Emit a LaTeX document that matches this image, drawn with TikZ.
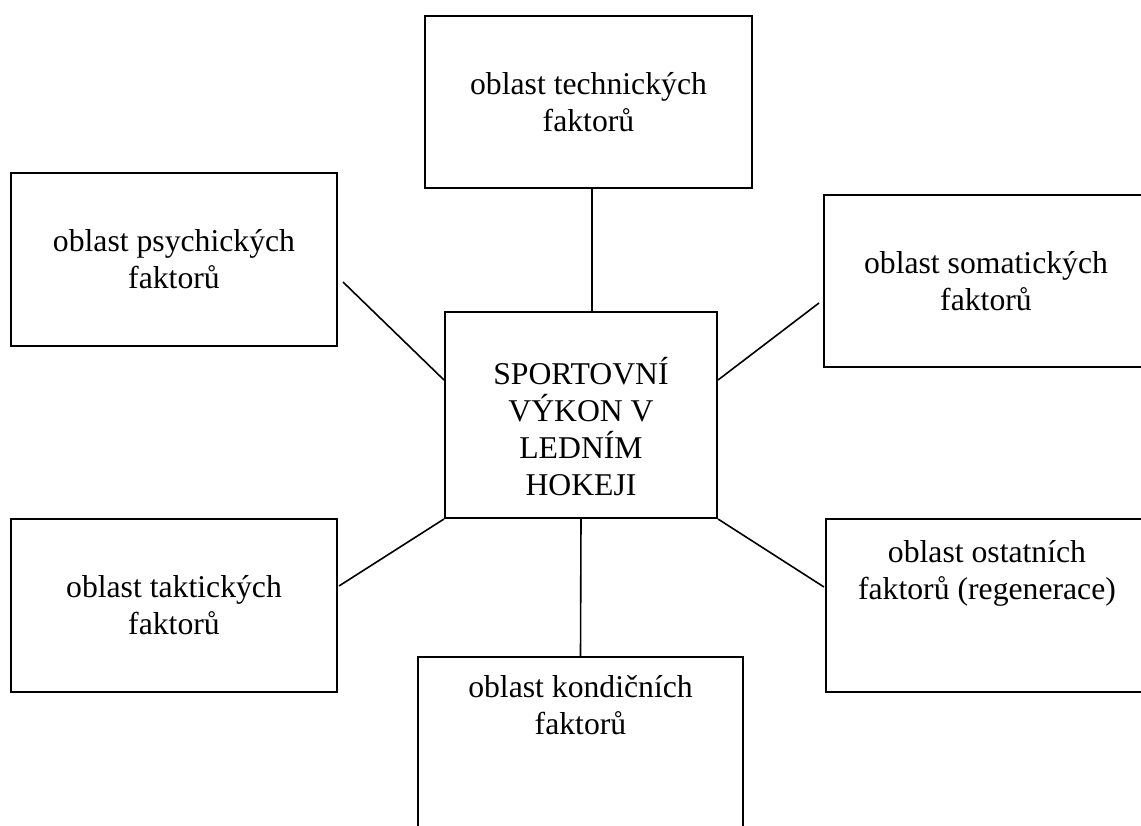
\documentclass[tikz,border=0pt]{standalone}
\usepackage{fontspec}
\setmainfont{Liberation Serif}
\usetikzlibrary{positioning}

\tikzset{
  area/.style={draw, line width=2pt, inner sep=0pt, align=center,
    minimum width=326pt, minimum height=173pt,
    font=\fontsize{31.7}{37}\selectfont},
  areatext/.style={inner sep=0pt, align=center,
    font=\fontsize{31.7}{37}\selectfont},
  link/.style={line width=1.6pt}
}

\begin{document}
\begin{tikzpicture}[x=1pt, y=-1pt]
    \useasboundingbox (0,0) rectangle (1141,825);
    \clip (0,0) rectangle (1141,825);
    % the areas
    \node[area, minimum width=327pt, minimum height=172pt] (tech) at (588.5,102) {oblast technických\\faktorů};
    \node[area] (psych) at (174,259.5) {oblast psychických\\faktorů};
    \node[area, minimum width=324pt, minimum height=172pt] (soma) at (986,281) {oblast somatických\\faktorů};
    \node[area] (takt) at (174,605.5) {oblast taktických\\faktorů};
    \node[area, minimum width=322pt] (ost) at (987,605.5) {};
    \node[areatext, below=22.5pt of ost.north] (osttext) {oblast ostatních\\faktorů (regenerace)};
    \node[area, minimum width=325pt, minimum height=172pt] (kond) at (580.5,743) {};
    \node[areatext, below=19.5pt of kond.north] (kondtext) {oblast kondičních\\faktorů};
    % performance in the middle
    \node[area, minimum width=272pt, minimum height=206pt] (hub) at (581,415) {};
    \node[areatext] (hubtext) at ([yshift=-11.5pt]hub.center) {SPORTOVNÍ\\VÝKON V\\LEDNÍM\\HOKEJI};
    % links
    \draw[link] ([shift={(3.5,0)}]tech.south) -- ([shift={(11,0)}]hub.north);
    \draw[link] ([shift={(5,22.5)}]psych.east) -- ([shift={(0,-35)}]hub.west);
    \draw[link] ([shift={(-4,22)}]soma.west) -- ([shift={(0,-35)}]hub.east);
    \draw[link] ([shift={(1,-19.5)}]takt.east) -- (hub.south west);
    \draw[link] (hub.south east) -- ([shift={(-1,-18.5)}]ost.west);
    \draw[link] (hub.south) -- (kond.north);
\end{tikzpicture}
\end{document}
